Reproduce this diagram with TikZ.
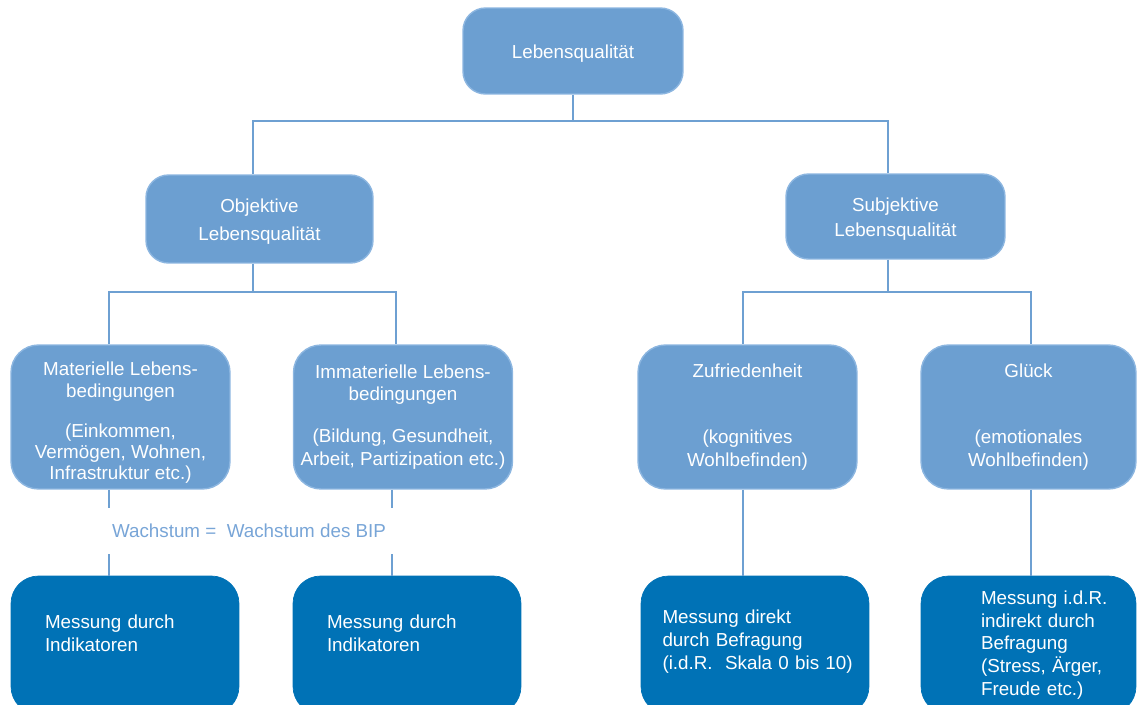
\documentclass[tikz,border=0pt]{standalone}
\usepackage{fontspec}
\setmainfont{Liberation Sans}
\hyphenpenalty=10000
\definecolor{boxblue}{RGB}{108,159,209}
\definecolor{boxedge}{RGB}{140,182,224}
\definecolor{darkblue}{RGB}{0,114,182}
\definecolor{lineblue}{RGB}{110,160,210}
\definecolor{labelblue}{RGB}{120,165,215}
\tikzset{
  qbox/.style={rectangle, rounded corners=0.45cm, fill=boxblue, draw=boxedge,
    line width=0.8pt, text=white, align=center, inner sep=0pt},
  mbox/.style={rectangle, rounded corners=0.55cm, fill=darkblue, draw=darkblue,
    text=white, align=left, inner sep=0pt, minimum height=2.76cm},
  link/.style={draw=lineblue, line width=0.7pt},
}
\begin{document}
\begin{tikzpicture}[x=0.02cm, y=-0.02cm, font=\fontsize{10.7pt}{13pt}\selectfont]
  \useasboundingbox (0,0) rectangle (1137,704);
  \clip (0,0) rectangle (1137,704);

  % top
  \node[qbox, minimum width=4.4cm, minimum height=1.72cm] (top) at (573,51) {\rule{0pt}{11pt}Lebensqualität};

  % objective / subjective
  \node[qbox, minimum width=4.54cm, minimum height=1.76cm] (obj) at (259.5,219) {\rule{0pt}{11pt}Objektive\\[2.9pt]Lebensqualität};
  \node[qbox, minimum width=4.38cm, minimum height=1.7cm] (subj) at (895.5,216.5) {\rule{0pt}{11pt}Subjektive\\[1.2pt]Lebensqualität};

  % dimensions
  \node[qbox, rounded corners=0.55cm, minimum width=4.38cm, minimum height=2.88cm] (mat) at (120.5,417)
    {\rule{0pt}{14.6pt}Materielle Lebens-\\[-0.8pt]bedingungen\\[9.7pt](Einkommen,\\[-0.8pt]Vermögen, Wohnen,\\[-0.8pt]Infrastruktur etc.)};
  \node[qbox, rounded corners=0.55cm, minimum width=4.38cm, minimum height=2.88cm] (immat) at (403,417)
    {Immaterielle Lebens-\\bedingungen\\[10.8pt](Bildung, Gesundheit,\\Arbeit, Partizipation etc.)};
  \node[qbox, rounded corners=0.55cm, minimum width=4.38cm, minimum height=2.88cm] (zuf) at (747.5,417)
    {Zufriedenheit\\[25pt](kognitives\\Wohlbefinden)};
  \node[qbox, rounded corners=0.55cm, minimum width=4.3cm, minimum height=2.88cm] (glueck) at (1028.5,417)
    {Glück\\[25pt](emotionales\\Wohlbefinden)};

  \node[text=labelblue, minimum height=0.92cm, inner sep=0pt] (wachs) at (249,531) {Wachstum =\ \ Wachstum des BIP};

  % measurement
  \node[mbox, minimum width=4.56cm, text width=3.2cm] (m1) at (125,645) {Messung durch\\Indikatoren\rule[-13.5pt]{0pt}{0pt}};
  \node[mbox, minimum width=4.56cm, text width=3.2cm] (m2) at (407,645) {Messung durch\\Indikatoren\rule[-13.5pt]{0pt}{0pt}};
  \node[mbox, minimum width=4.56cm, text width=3.7cm] (m3) at (755,645)
    {Messung~direkt\\durch~Befragung\\(i.d.R.~~Skala~0~bis~10)\rule[-6pt]{0pt}{0pt}};
  \node[mbox, minimum width=4.3cm, text width=1.9cm] (m4) at (1028.5,645)
    {Messung~i.d.R.\\indirekt~durch\\Befragung\\(Stress,~Ärger,\\Freude~etc.)};

  % connectors
  \draw[link] (top.south) -- (top.south |- 0,121) -| (obj.north -| 253,0);
  \draw[link] (top.south |- 0,121) -| (subj.north -| 888,0);
  \draw[link] (obj.south -| 253,0) -- (253,292) -| (mat.north -| 109,0);
  \draw[link] (253,292) -| (immat.north -| 396,0);
  \draw[link] (subj.south -| 888,0) -- (888,292) -| (zuf.north -| 743,0);
  \draw[link] (888,292) -| (glueck.north -| 1031,0);
  \draw[link] (mat.south -| 109,0) -- (wachs.north -| 109,0);
  \draw[link] (wachs.south -| 109,0) -- (m1.north -| 109,0);
  \draw[link] (immat.south -| 392,0) -- (wachs.north -| 392,0);
  \draw[link] (wachs.south -| 392,0) -- (m2.north -| 392,0);
  \draw[link] (zuf.south -| 743,0) -- (m3.north -| 743,0);
  \draw[link] (glueck.south -| 1031,0) -- (m4.north -| 1031,0);
\end{tikzpicture}
\end{document}
